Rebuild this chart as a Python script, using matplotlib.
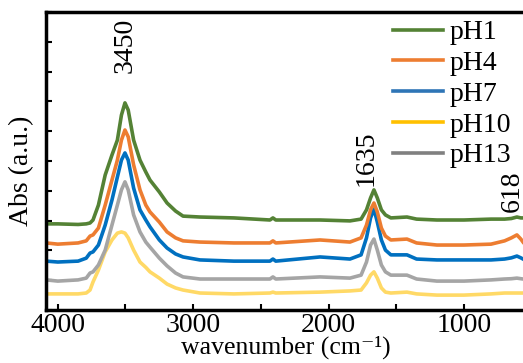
import matplotlib
matplotlib.use("Agg")
import matplotlib.pyplot as plt
from matplotlib.lines import Line2D
from matplotlib.ticker import MultipleLocator, NullFormatter

plt.rcParams['font.family'] = ['Liberation Serif', 'DejaVu Serif']
plt.rcParams['mathtext.fontset'] = 'stix'

# wavenumber grid (cm-1)
wn = [4085, 4000, 3850, 3790, 3762, 3740, 3700, 3650, 3600, 3560, 3530, 3504, 3480,
      3440, 3393, 3350, 3319, 3250, 3193, 3130, 3075, 2950, 2700, 2433, 2411, 2390,
      2063, 1842, 1760, 1720, 1690, 1665, 1640, 1610, 1580, 1540, 1421, 1350, 1200,
      1000, 800, 700, 650, 609, 580, 564]

ph1 = [.289, .289, .287, .289, .292, .302, .352, .453, .520, .570, .654, .695, .671,
       .570, .503, .463, .436, .396, .359, .332, .315, .312, .309, .302, .309, .302,
       .302, .299, .305, .336, .376, .403, .376, .336, .319, .309, .312, .305, .302,
       .302, .305, .305, .307, .312, .309, .309]
ph4 = [.225, .221, .225, .232, .248, .252, .275, .352, .436, .503, .570, .604, .581,
       .487, .403, .352, .329, .295, .262, .242, .232, .228, .225, .225, .232, .225,
       .235, .228, .242, .285, .336, .359, .329, .275, .248, .235, .238, .225, .218,
       .218, .221, .232, .242, .252, .238, .228]
ph7 = [.164, .161, .164, .174, .191, .195, .218, .285, .369, .446, .503, .527, .503,
       .409, .336, .302, .279, .235, .208, .188, .178, .168, .164, .164, .171, .164,
       .178, .171, .185, .242, .309, .339, .295, .235, .201, .185, .185, .171, .168,
       .168, .168, .171, .175, .181, .175, .171]
ph10 = [.054, .054, .054, .057, .067, .094, .134, .195, .235, .258, .262, .258, .242,
        .201, .161, .143, .128, .107, .087, .074, .067, .057, .054, .057, .060, .057,
        .060, .064, .067, .091, .117, .128, .107, .074, .060, .057, .060, .054, .050,
        .050, .054, .057, .057, .057, .057, .057]
ph13 = [.101, .097, .101, .107, .124, .128, .151, .201, .285, .352, .403, .430, .403,
        .319, .262, .228, .211, .174, .148, .124, .111, .104, .104, .104, .111, .104,
        .111, .107, .117, .161, .218, .238, .201, .151, .128, .117, .117, .104, .097,
        .097, .101, .104, .105, .107, .105, .104]

labels = ["pH1", "pH4", "pH7", "pH10", "pH13"]
series = [ph1, ph4, ph7, ph10, ph13]
line_colors = ["#548235", "#ED7D31", "#0070C0", "#FFD966", "#A5A5A5"]
legend_colors = ["#548235", "#ED7D31", "#2E75B6", "#FFC000", "#808080"]

peak_labels = ["3450", "1635", "618"]
peak_pos = [3505, 1724, 645]
peak_y = [0.887, 0.51, 0.40]

fig = plt.figure(figsize=(5.23, 3.63), dpi=100)
ax = fig.add_axes([0.088, 0.146, 0.912, 0.821])

for i in [3, 4, 2, 1, 0]:
    ax.plot(wn, series[i], color=line_colors[i], lw=2.6, solid_joinstyle='round')

ax.set_xlim(4087, 564)
ax.set_ylim(0, 1.0)

ax.xaxis.set_major_locator(MultipleLocator(1000))
ax.xaxis.set_minor_locator(MultipleLocator(500))
ax.yaxis.set_major_locator(MultipleLocator(0.1))
ax.yaxis.set_major_formatter(NullFormatter())
ax.tick_params(axis='both', which='both', direction='in', length=4, width=1.5)
ax.tick_params(axis='x', labelsize=20, pad=2)
ax.tick_params(axis='y', left=True, right=False)
ax.tick_params(axis='x', top=False)

for s in ['left', 'bottom', 'top']:
    ax.spines[s].set_linewidth(2.5)
ax.spines['right'].set_visible(False)

ax.set_xlabel("wavenumber (cm\u207b\u00b9)", fontsize=18.5)
ax.xaxis.set_label_coords(0.503, -0.085)
ax.set_ylabel("Abs (a.u.)", fontsize=20)
ax.yaxis.set_label_coords(-0.025, 0.466)

for t, x, y in zip(peak_labels, peak_pos, peak_y):
    ax.text(x, y, t, rotation=90, fontsize=20, ha='center', va='center')

handles = [Line2D([], [], color=c, lw=2.6) for c in legend_colors]
ax.legend(handles, labels, loc='upper right', bbox_to_anchor=(1.005, 1.02), frameon=False,
          fontsize=20, handlelength=1.8, handletextpad=0.25, labelspacing=0.19,
          borderaxespad=0.1)

fig.savefig("out.png", dpi=100)
